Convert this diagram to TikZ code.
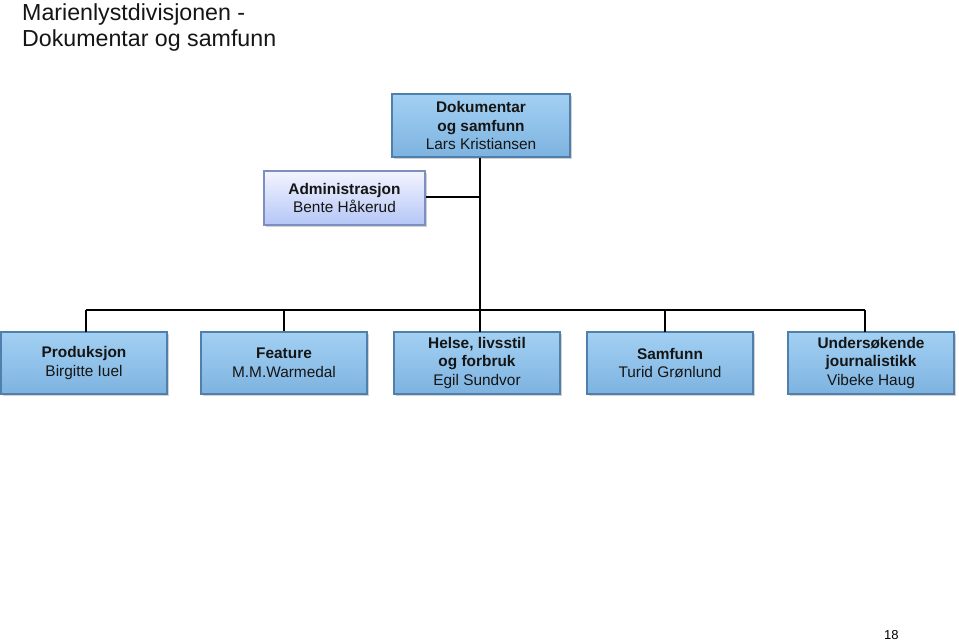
\documentclass[tikz,border=0pt]{standalone}
\usepackage{fontspec}
\setmainfont{Liberation Sans}
\usetikzlibrary{shadows}
\definecolor{boxtop}{HTML}{A3D0F3}
\definecolor{boxbot}{HTML}{7DB3E0}
\definecolor{boxedge}{HTML}{4F7FAA}
\definecolor{admtop}{HTML}{F4F4FF}
\definecolor{admbot}{HTML}{B4C6F6}
\definecolor{admedge}{HTML}{7D8FBF}
\definecolor{txt}{HTML}{151515}
\tikzset{
  orgbox/.style={draw=boxedge, line width=1.6pt, top color=boxtop, bottom color=boxbot,
    minimum width=166pt, minimum height=62pt, align=center, inner sep=0pt,
    font=\fontsize{15.4}{18.5}\selectfont, text=txt,
    drop shadow={shadow xshift=1.5pt, shadow yshift=-1.5pt, opacity=0.35, fill=gray}},
  admbox/.style={orgbox, draw=admedge, top color=admtop, bottom color=admbot},
  conn/.style={draw=black, line width=1.3pt},
}
\begin{document}
\begin{tikzpicture}[x=1pt,y=-1pt]
\useasboundingbox[fill=white] (0,0) rectangle (959,640);
\node[anchor=north west, align=left, inner sep=0pt, font=\fontsize{23.2}{26}\selectfont, text=txt] (title) at (22,3)
  {Marienlystdivisjonen -\\Dokumentar og samfunn};
\node[orgbox, minimum width=178pt, minimum height=63pt] (top) at (481,125.5)
  {\textbf{Dokumentar}\\\textbf{og samfunn}\\Lars Kristiansen};
\node[admbox, minimum width=161pt, minimum height=54pt] (adm) at (344.5,198)
  {\textbf{Administrasjon}\\Bente Håkerud};
\node[orgbox] (prod) at (84,363) {\textbf{Produksjon}\\Birgitte Iuel};
\node[orgbox] (feat) at (284,363) {\textbf{Feature}\\M.M.Warmedal};
\node[orgbox] (hel) at (477,363) {\textbf{Helse, livsstil}\\\textbf{og forbruk}\\Egil Sundvor};
\node[orgbox] (sam) at (670,363) {\textbf{Samfunn}\\Turid Grønlund};
\node[orgbox] (und) at (871,363) {\textbf{Undersøkende}\\\textbf{journalistikk}\\Vibeke Haug};
\coordinate (bus) at (480,310);
\coordinate (admj) at (480,197);
\draw[conn] (top.south -| bus) -- (bus);
\draw[conn] (adm.east |- admj) -- (admj);
\draw[conn] (86,310) -- (865,310);
\draw[conn] (86,310) -- (86,332);
\draw[conn] (feat.north) -- (feat.north |- bus);
\draw[conn] (480,310) -- (480,332);
\draw[conn] (665,310) -- (665,332);
\draw[conn] (865,310) -- (865,332);
\node[anchor=base west, inner sep=0pt, font=\fontfamily{lmr}\fontsize{13}{15}\selectfont\rmfamily] (pg) at (884,639) {18};
\end{tikzpicture}
\end{document}
